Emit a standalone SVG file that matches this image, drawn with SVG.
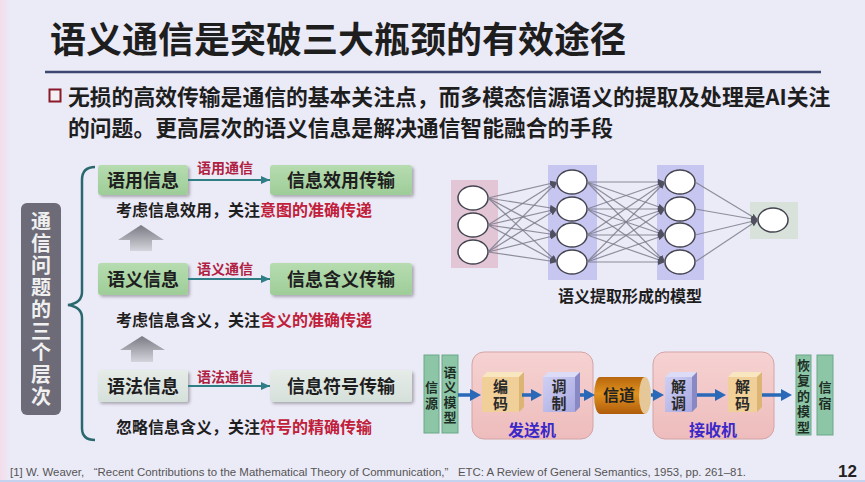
<svg xmlns="http://www.w3.org/2000/svg" width="865" height="482" viewBox="0 0 865 482">
<style>
.cjk{font-family:"Noto Sans CJK SC","Noto Sans",sans-serif;font-weight:bold}
.title{font-size:36px;fill:#1e1e1e}
.bul{font-size:21.8px;fill:#1e1e1e}
.box{font-size:18px;fill:#1e1e1e;text-anchor:middle}
.lab{font-size:14px;fill:#b02040;text-anchor:middle}
.cap{font-size:16px;fill:#1e1e1e}
.red{fill:#c0203a}
.vert{writing-mode:vertical-rl;text-orientation:upright}
.vlab{font-size:20px;fill:#f0f0f0;letter-spacing:1.9px}
.bar{fill:#8cc6a6;stroke:#6aa888;stroke-width:1}
.vt{font-size:13px;fill:#1e2e26}
.bt{font-size:15px;fill:#2a2a2a;letter-spacing:2px}
.mach{font-size:16px;fill:#3b28c8;text-anchor:middle}
.nnc{fill:#ffffff;stroke:#444450;stroke-width:1.5}
.nne{stroke:#7c7c8c;stroke-width:1.2;stroke-opacity:0.85;marker-end:url(#nnArr)}
.teal{stroke:#2f7e86;stroke-width:2;fill:none;marker-end:url(#tealArr)}
.blue{stroke:#2a68b8;stroke-width:3.5;fill:none;marker-end:url(#blueArr)}
</style>
<defs>
<marker id="nnArr" markerUnits="userSpaceOnUse" markerWidth="7" markerHeight="6" refX="7" refY="3" orient="auto"><path d="M0,0 L7,3 L0,6 z" fill="#505060"/></marker>
<marker id="tealArr" markerUnits="userSpaceOnUse" markerWidth="9" markerHeight="8" refX="9" refY="4" orient="auto"><path d="M0,0 L9,4 L0,8 z" fill="#2f7e86"/></marker>
<marker id="blueArr" markerUnits="userSpaceOnUse" markerWidth="11" markerHeight="12" refX="2" refY="6" orient="auto"><path d="M0,0 L11,6 L0,12 z" fill="#2a68b8"/></marker>
<linearGradient id="gGreen" x1="0" y1="0" x2="0" y2="1"><stop offset="0" stop-color="#b6dcb0"/><stop offset="1" stop-color="#9ecd98"/></linearGradient>
<linearGradient id="gGray" x1="0" y1="0" x2="0" y2="1"><stop offset="0" stop-color="#e6ece8"/><stop offset="1" stop-color="#d6e0da"/></linearGradient>
<linearGradient id="gUp" x1="0" y1="0" x2="0" y2="1"><stop offset="0" stop-color="#7a7a84"/><stop offset="1" stop-color="#d4d4dc"/></linearGradient>
<linearGradient id="gPink" x1="0" y1="0" x2="0" y2="1"><stop offset="0" stop-color="#f6d2d2"/><stop offset="1" stop-color="#eebcbc"/></linearGradient>
<linearGradient id="gPipe" x1="0" y1="0" x2="0" y2="1"><stop offset="0" stop-color="#b8660e"/><stop offset="0.45" stop-color="#e0921e"/><stop offset="1" stop-color="#b05c0c"/></linearGradient>
<linearGradient id="gLav" x1="0" y1="0" x2="1" y2="1"><stop offset="0" stop-color="#d0d0f4"/><stop offset="1" stop-color="#a8a8e0"/></linearGradient>
<linearGradient id="gLeft" x1="0" y1="0" x2="1" y2="0"><stop offset="0" stop-color="#f4dcea"/><stop offset="1" stop-color="#ebeaf7"/></linearGradient>
<filter id="sh" x="-10%" y="-20%" width="130%" height="160%"><feDropShadow dx="2" dy="2" stdDeviation="1.5" flood-color="#000" flood-opacity="0.28"/></filter>
</defs>

<rect x="0" y="0" width="865" height="482" fill="#ebeaf7"/>
<rect x="0" y="0" width="10" height="482" fill="url(#gLeft)"/>
<line x1="0" y1="481" x2="865" y2="481" stroke="#c4d2f0" stroke-width="2"/>

<g id="title">
<text class="cjk title" x="50" y="53">语义通信是突破三大瓶颈的有效途径</text>
<line x1="45" y1="72" x2="821" y2="72" stroke="#3c4870" stroke-width="2.5"/>
</g>

<g id="bullet">
<rect x="49.5" y="89.5" width="11" height="12" fill="#f4f0f4" stroke="#8a1a2a" stroke-width="2"/>
<text class="cjk bul" x="68" y="105">无损的高效传输是通信的基本关注点，而多模态信源语义的提取及处理是AI关注</text>
<text class="cjk bul" x="68" y="136">的问题。更高层次的语义信息是解决通信智能融合的手段</text>
</g>

<g id="levels-label">
<rect x="21" y="203" width="40" height="212" rx="6" fill="#6d6b78"/>
<text class="cjk vlab vert" x="41" y="211.5">通信问题的三个层次</text>
</g>

<g id="brace">
<path d="M95,167 Q82,167 82,180 L82,292 Q82,303 68,305 Q82,307 82,318 L82,428 Q82,440 95,440" fill="none" stroke="#2a6870" stroke-width="2.5"/>
</g>

<g id="pragmatic-info">
<rect x="98" y="165" width="90" height="30" rx="3" fill="url(#gGreen)" filter="url(#sh)"/>
<text class="cjk box" x="143" y="187">语用信息</text>
</g>
<g id="pragmatic-transfer">
<rect x="270" y="165" width="142" height="30" rx="3" fill="url(#gGreen)" filter="url(#sh)"/>
<text class="cjk box" x="341" y="187">信息效用传输</text>
</g>
<g id="caption-1">
<text class="cjk cap" x="116" y="216">考虑信息效用，关注<tspan class="red">意图的准确传递</tspan></text>
</g>

<g id="semantic-info">
<rect x="98" y="263" width="90" height="32" rx="3" fill="url(#gGreen)" filter="url(#sh)"/>
<text class="cjk box" x="143" y="286">语义信息</text>
</g>
<g id="semantic-transfer">
<rect x="270" y="263" width="142" height="32" rx="3" fill="url(#gGreen)" filter="url(#sh)"/>
<text class="cjk box" x="341" y="286">信息含义传输</text>
</g>
<g id="caption-2">
<text class="cjk cap" x="116" y="326">考虑信息含义，关注<tspan class="red">含义的准确传递</tspan></text>
</g>

<g id="syntactic-info">
<rect x="98" y="370" width="90" height="32" rx="3" fill="url(#gGray)" filter="url(#sh)"/>
<text class="cjk box" x="143" y="393">语法信息</text>
</g>
<g id="syntactic-transfer">
<rect x="270" y="370" width="142" height="32" rx="3" fill="url(#gGray)" filter="url(#sh)"/>
<text class="cjk box" x="341" y="393">信息符号传输</text>
</g>
<g id="caption-3">
<text class="cjk cap" x="116" y="433">忽略信息含义，关注<tspan class="red">符号的精确传输</tspan></text>
</g>

<g id="nn-input">
<rect x="451" y="180" width="47" height="88" fill="#e2c6d6"/>
<ellipse class="nnc" cx="473" cy="198" rx="15" ry="12"/>
<ellipse class="nnc" cx="473" cy="225" rx="15" ry="12"/>
<ellipse class="nnc" cx="473" cy="252" rx="15" ry="12"/>
</g>
<g id="nn-hidden-1">
<rect x="548" y="165" width="49" height="115" fill="#c6c6f0"/>
<ellipse class="nnc" cx="572" cy="182" rx="15" ry="12"/>
<ellipse class="nnc" cx="572" cy="209" rx="15" ry="12"/>
<ellipse class="nnc" cx="572" cy="235" rx="15" ry="12"/>
<ellipse class="nnc" cx="572" cy="262" rx="15" ry="12"/>
</g>
<g id="nn-hidden-2">
<rect x="657" y="165" width="47" height="115" fill="#c6c6f0"/>
<ellipse class="nnc" cx="680" cy="182" rx="15" ry="12"/>
<ellipse class="nnc" cx="680" cy="209" rx="15" ry="12"/>
<ellipse class="nnc" cx="680" cy="235" rx="15" ry="12"/>
<ellipse class="nnc" cx="680" cy="262" rx="15" ry="12"/>
</g>
<g id="nn-output">
<rect x="750" y="202" width="48" height="37" fill="#d8e2da"/>
<ellipse class="nnc" cx="773" cy="220" rx="15" ry="12"/>
</g>
<g id="nn-caption">
<text class="cjk cap" x="630" y="302" text-anchor="middle">语义提取形成的模型</text>
</g>

<g id="source">
<rect class="bar" x="424" y="355" width="15" height="78"/>
<text class="cjk vt vert" x="431.5" y="381" letter-spacing="2.5">信源</text>
</g>
<g id="semantic-model">
<rect class="bar" x="442" y="355" width="16" height="78"/>
<text class="cjk vt vert" x="450" y="365.5" letter-spacing="2">语义模型</text>
</g>
<g id="transmitter">
<rect x="472" y="352" width="121" height="87" rx="12" fill="url(#gPink)" stroke="#d4a4a4" stroke-width="1"/>
<text class="cjk mach" x="532" y="436">发送机</text>
</g>
<g id="encoder">
<path d="M482,377 L487,372 L524,372 L519,377 Z" fill="#f8e6c0"/>
<path d="M519,377 L524,372 L524,407 L519,412 Z" fill="#dcb474"/>
<rect x="482" y="377" width="37" height="35" fill="#f0d098"/>
<text class="cjk bt vert" x="500.5" y="379">编码</text>
</g>
<g id="modulator">
<path d="M543,377 L548,372 L580,372 L575,377 Z" fill="#dcdcf6"/>
<path d="M575,377 L580,372 L580,407 L575,412 Z" fill="#8888c4"/>
<rect x="543" y="377" width="32" height="35" fill="url(#gLav)"/>
<text class="cjk bt vert" x="559" y="379">调制</text>
</g>
<g id="channel">
<path d="M600,377 L645,377 L645,414 L600,414 A6,18.5 0 0 1 600,377 Z" fill="url(#gPipe)"/>
<ellipse cx="645" cy="395.5" rx="6" ry="18.5" fill="#e6c898"/>
<text class="cjk" x="619" y="401" font-size="16" fill="#222" text-anchor="middle">信道</text>
</g>
<g id="receiver">
<rect x="653" y="352" width="121" height="87" rx="12" fill="url(#gPink)" stroke="#d4a4a4" stroke-width="1"/>
<text class="cjk mach" x="713" y="436">接收机</text>
</g>
<g id="demodulator">
<path d="M665,377 L670,372 L697,372 L692,377 Z" fill="#dcdcf6"/>
<path d="M692,377 L697,372 L697,407 L692,412 Z" fill="#8888c4"/>
<rect x="665" y="377" width="27" height="35" fill="url(#gLav)"/>
<text class="cjk bt vert" x="678.5" y="379">解调</text>
</g>
<g id="decoder">
<path d="M728,377 L733,372 L762,372 L757,377 Z" fill="#f8e6c0"/>
<path d="M757,377 L762,372 L762,407 L757,412 Z" fill="#dcb474"/>
<rect x="728" y="377" width="29" height="35" fill="#f0d098"/>
<text class="cjk bt vert" x="742.5" y="379">解码</text>
</g>
<g id="recovered-model">
<rect class="bar" x="796" y="355" width="15" height="80"/>
<text class="cjk vt vert" x="803.5" y="358.5" letter-spacing="2.5">恢复的模型</text>
</g>
<g id="sink">
<rect class="bar" x="817" y="355" width="16" height="80"/>
<text class="cjk vt vert" x="825" y="381" letter-spacing="2.5">信宿</text>
</g>

<g id="connectors">
<line class="teal" x1="188" y1="180" x2="270" y2="180"/>
<text class="cjk lab" x="225" y="173">语用通信</text>
<line class="teal" x1="188" y1="279" x2="270" y2="279"/>
<text class="cjk lab" x="225" y="274">语义通信</text>
<line class="teal" x1="188" y1="386" x2="270" y2="386"/>
<text class="cjk lab" x="225" y="382">语法通信</text>
<path d="M118,240 L141,225 L164,240 L152,240 L152,251 L130,251 L130,240 Z" fill="url(#gUp)"/>
<path d="M120,350 L142,336 L165,350 L153,350 L153,362 L131,362 L131,350 Z" fill="url(#gUp)"/>

<line class="nne" x1="488" y1="198" x2="557" y2="182"/>
<line class="nne" x1="488" y1="198" x2="557" y2="209"/>
<line class="nne" x1="488" y1="198" x2="557" y2="235"/>
<line class="nne" x1="488" y1="198" x2="557" y2="262"/>
<line class="nne" x1="488" y1="225" x2="557" y2="182"/>
<line class="nne" x1="488" y1="225" x2="557" y2="209"/>
<line class="nne" x1="488" y1="225" x2="557" y2="235"/>
<line class="nne" x1="488" y1="225" x2="557" y2="262"/>
<line class="nne" x1="488" y1="252" x2="557" y2="182"/>
<line class="nne" x1="488" y1="252" x2="557" y2="209"/>
<line class="nne" x1="488" y1="252" x2="557" y2="235"/>
<line class="nne" x1="488" y1="252" x2="557" y2="262"/>

<line class="nne" x1="587" y1="182" x2="665" y2="182"/>
<line class="nne" x1="587" y1="182" x2="665" y2="209"/>
<line class="nne" x1="587" y1="182" x2="665" y2="235"/>
<line class="nne" x1="587" y1="182" x2="665" y2="262"/>
<line class="nne" x1="587" y1="209" x2="665" y2="182"/>
<line class="nne" x1="587" y1="209" x2="665" y2="209"/>
<line class="nne" x1="587" y1="209" x2="665" y2="235"/>
<line class="nne" x1="587" y1="209" x2="665" y2="262"/>
<line class="nne" x1="587" y1="235" x2="665" y2="182"/>
<line class="nne" x1="587" y1="235" x2="665" y2="209"/>
<line class="nne" x1="587" y1="235" x2="665" y2="235"/>
<line class="nne" x1="587" y1="235" x2="665" y2="262"/>
<line class="nne" x1="587" y1="262" x2="665" y2="182"/>
<line class="nne" x1="587" y1="262" x2="665" y2="209"/>
<line class="nne" x1="587" y1="262" x2="665" y2="235"/>
<line class="nne" x1="587" y1="262" x2="665" y2="262"/>

<line class="nne" x1="695" y1="182" x2="758" y2="220"/>
<line class="nne" x1="695" y1="209" x2="758" y2="220"/>
<line class="nne" x1="695" y1="235" x2="758" y2="220"/>
<line class="nne" x1="695" y1="262" x2="758" y2="220"/>

<line class="blue" x1="458" y1="395" x2="472" y2="395"/>
<line class="blue" x1="522" y1="395" x2="533" y2="395"/>
<line class="blue" x1="580" y1="395" x2="586" y2="395"/>
<line class="blue" x1="651" y1="395" x2="655" y2="395"/>
<line class="blue" x1="697" y1="395" x2="717" y2="395"/>
<line class="blue" x1="762" y1="395" x2="783" y2="395"/>
</g>

<g id="footer">
<text x="10" y="476" font-family="Liberation Sans, Arial, sans-serif" font-size="11" fill="#555" textLength="736" lengthAdjust="spacingAndGlyphs">[1] W. Weaver, &#160; “Recent Contributions to the Mathematical Theory of Communication,” &#160; ETC: A Review of General Semantics, 1953, pp. 261–81.</text>
<text x="857" y="477" font-family="Liberation Sans, Arial, sans-serif" font-size="17" font-weight="bold" fill="#222" text-anchor="end">12</text>
</g>
</svg>
